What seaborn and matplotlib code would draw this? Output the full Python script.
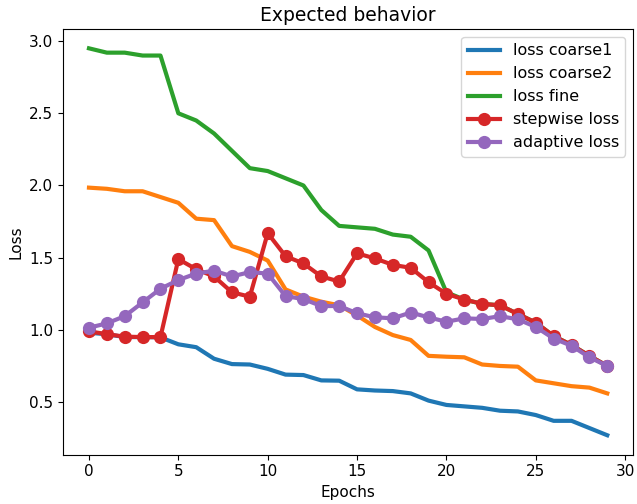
import numpy as np
import pandas as pd
import matplotlib
matplotlib.use('Agg')
import matplotlib.pyplot as plt
import seaborn as sns

epochs = list(range(30))

loss_coarse1 = [0.98, 0.97, 0.95, 0.95, 0.948, 0.90, 0.88, 0.80, 0.763, 0.76,
                0.73, 0.69, 0.687, 0.65, 0.648, 0.588, 0.58, 0.576, 0.56, 0.51,
                0.48, 0.47, 0.46, 0.44, 0.435, 0.41, 0.37, 0.37, 0.32, 0.27]

loss_coarse2 = [1.985, 1.977, 1.96, 1.96, 1.92, 1.88, 1.77, 1.76, 1.58, 1.54,
                1.48, 1.28, 1.23, 1.195, 1.17, 1.10, 1.02, 0.964, 0.93, 0.82,
                0.814, 0.81, 0.76, 0.75, 0.745, 0.65, 0.63, 0.61, 0.60, 0.56]

loss_fine = [2.95, 2.92, 2.92, 2.90, 2.90, 2.50, 2.45, 2.36, 2.24, 2.12,
             2.10, 2.05, 2.00, 1.83, 1.72, 1.71, 1.70, 1.66, 1.645, 1.55,
             1.26, 1.21, 1.18, 1.17, 1.11, 1.05, 0.957, 0.895, 0.82, 0.75]

stepwise_loss = [0.99, 0.97, 0.953, 0.95, 0.95, 1.49, 1.42, 1.37, 1.26, 1.23,
                 1.67, 1.51, 1.46, 1.37, 1.335, 1.53, 1.495, 1.45, 1.43, 1.33,
                 1.25, 1.21, 1.18, 1.17, 1.11, 1.05, 0.957, 0.895, 0.82, 0.75]

adaptive_loss = [1.015, 1.045, 1.095, 1.19, 1.285, 1.345, 1.39, 1.41, 1.37, 1.40,
                 1.39, 1.234, 1.213, 1.165, 1.165, 1.115, 1.087, 1.08, 1.12, 1.087,
                 1.056, 1.08, 1.075, 1.095, 1.073, 1.02, 0.94, 0.89, 0.81, 0.75]

series = [
    ('loss coarse1', loss_coarse1, '#1f77b4', None),
    ('loss coarse2', loss_coarse2, '#ff7f0e', None),
    ('loss fine', loss_fine, '#2ca02c', None),
    ('stepwise loss', stepwise_loss, '#d62728', 'o'),
    ('adaptive loss', adaptive_loss, '#9467bd', 'o'),
]

plt.rcParams['font.size'] = 11

fig, ax = plt.subplots(figsize=(6.37, 5.04), dpi=100)
fig.subplots_adjust(left=0.099, right=0.994, top=0.9425, bottom=0.098)

for name, values, color, marker in series:
    df = pd.DataFrame({'Epochs': epochs, 'Loss': values})
    sns.lineplot(data=df, x='Epochs', y='Loss', ax=ax, color=color,
                 linewidth=3, marker=marker, markersize=9.5,
                 markeredgewidth=0, label=name)

ax.set_xticks([0, 5, 10, 15, 20, 25, 30])
ax.set_title('Expected behavior', fontsize=13.5)
ax.set_xlabel('Epochs', fontsize=11)
ax.set_ylabel('Loss', fontsize=11)
ax.tick_params(labelsize=11)
ax.legend(loc='upper right', fontsize=11.5)

fig.savefig('out.png', dpi=100)
